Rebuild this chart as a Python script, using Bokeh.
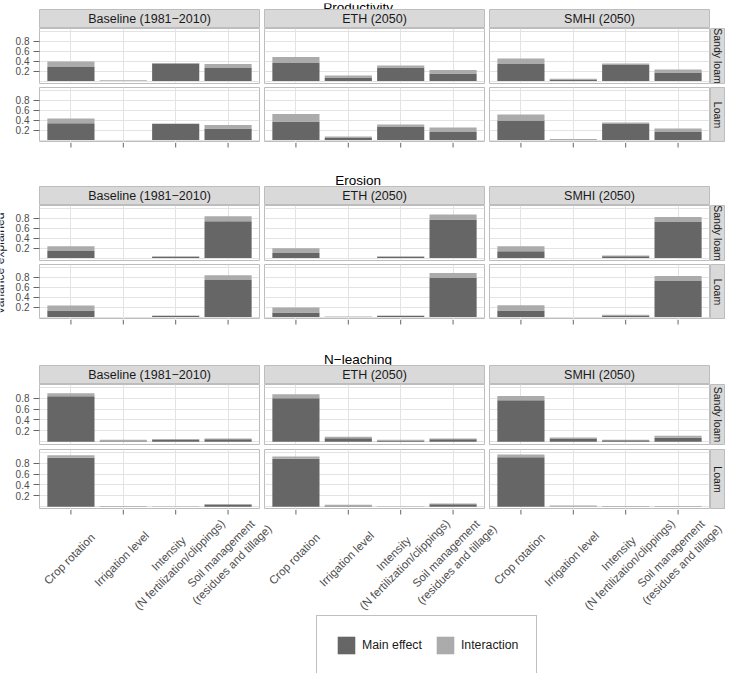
import math
from bokeh.plotting import figure
from bokeh.layouts import column, row
from bokeh.models import (FactorRange, Range1d, FixedTicker, ColumnDataSource,
                          Label, Legend, LegendItem)
from bokeh.core.properties import value
from bokeh.embed import file_html
from bokeh.resources import INLINE

# ---------------- data ----------------
SECTIONS = ["Productivity", "Erosion", "N\u2212leaching"]
SCENARIOS = ["Baseline (1981\u22122010)", "ETH (2050)", "SMHI (2050)"]
SOILS = ["Sandy loam", "Loam"]
FACTORS = ["Crop rotation", "Irrigation level", "Intensity", "Soil management"]
FACTOR_LABELS = ["Crop rotation", "Irrigation level",
                 "Intensity\n(N fertilization/clippings)",
                 "Soil management\n(residues and tillage)"]
Y_TICKS = [0.2, 0.4, 0.6, 0.8]
Y_GRID = [0.0, 0.2, 0.4, 0.6, 0.8, 1.0]
LEGEND_LABELS = ["Main effect", "Interaction"]
Y_LABEL = "Variance explained"

# Productivity
PROD_SANDY_BASE_MAIN = [0.28, 0.0, 0.35, 0.26]
PROD_SANDY_BASE_INTER = [0.11, 0.015, 0.01, 0.08]
PROD_SANDY_ETH_MAIN = [0.36, 0.07, 0.27, 0.15]
PROD_SANDY_ETH_INTER = [0.12, 0.04, 0.04, 0.07]
PROD_SANDY_SMHI_MAIN = [0.34, 0.03, 0.32, 0.17]
PROD_SANDY_SMHI_INTER = [0.11, 0.015, 0.03, 0.06]
PROD_LOAM_BASE_MAIN = [0.335, 0.0, 0.32, 0.23]
PROD_LOAM_BASE_INTER = [0.095, 0.0, 0.01, 0.07]
PROD_LOAM_ETH_MAIN = [0.37, 0.04, 0.26, 0.16]
PROD_LOAM_ETH_INTER = [0.15, 0.03, 0.05, 0.09]
PROD_LOAM_SMHI_MAIN = [0.39, 0.0, 0.32, 0.16]
PROD_LOAM_SMHI_INTER = [0.12, 0.02, 0.03, 0.07]
# Erosion
ERO_SANDY_BASE_MAIN = [0.14, 0.0, 0.025, 0.735]
ERO_SANDY_BASE_INTER = [0.095, 0.0, 0.01, 0.10]
ERO_SANDY_ETH_MAIN = [0.10, 0.0, 0.025, 0.77]
ERO_SANDY_ETH_INTER = [0.095, 0.0, 0.01, 0.10]
ERO_SANDY_SMHI_MAIN = [0.135, 0.0, 0.035, 0.72]
ERO_SANDY_SMHI_INTER = [0.10, 0.0, 0.015, 0.10]
ERO_LOAM_BASE_MAIN = [0.13, 0.0, 0.02, 0.74]
ERO_LOAM_BASE_INTER = [0.10, 0.0, 0.01, 0.095]
ERO_LOAM_ETH_MAIN = [0.09, 0.0, 0.02, 0.78]
ERO_LOAM_ETH_INTER = [0.10, 0.01, 0.01, 0.10]
ERO_LOAM_SMHI_MAIN = [0.13, 0.0, 0.03, 0.72]
ERO_LOAM_SMHI_INTER = [0.105, 0.0, 0.015, 0.10]
# N-leaching
NL_SANDY_BASE_MAIN = [0.836, 0.01, 0.04, 0.045]
NL_SANDY_BASE_INTER = [0.054, 0.025, 0.008, 0.015]
NL_SANDY_ETH_MAIN = [0.80, 0.065, 0.025, 0.045]
NL_SANDY_ETH_INTER = [0.07, 0.025, 0.01, 0.015]
NL_SANDY_SMHI_MAIN = [0.76, 0.05, 0.03, 0.075]
NL_SANDY_SMHI_INTER = [0.08, 0.028, 0.008, 0.035]
NL_LOAM_BASE_MAIN = [0.90, 0.0, 0.0, 0.04]
NL_LOAM_BASE_INTER = [0.045, 0.012, 0.01, 0.013]
NL_LOAM_ETH_MAIN = [0.88, 0.01, 0.0, 0.045]
NL_LOAM_ETH_INTER = [0.04, 0.025, 0.01, 0.015]
NL_LOAM_SMHI_MAIN = [0.91, 0.005, 0.0, 0.0]
NL_LOAM_SMHI_INTER = [0.048, 0.02, 0.012, 0.012]

VALUES = {
    (0, 0, 0): (PROD_SANDY_BASE_MAIN, PROD_SANDY_BASE_INTER),
    (0, 0, 1): (PROD_SANDY_ETH_MAIN, PROD_SANDY_ETH_INTER),
    (0, 0, 2): (PROD_SANDY_SMHI_MAIN, PROD_SANDY_SMHI_INTER),
    (0, 1, 0): (PROD_LOAM_BASE_MAIN, PROD_LOAM_BASE_INTER),
    (0, 1, 1): (PROD_LOAM_ETH_MAIN, PROD_LOAM_ETH_INTER),
    (0, 1, 2): (PROD_LOAM_SMHI_MAIN, PROD_LOAM_SMHI_INTER),
    (1, 0, 0): (ERO_SANDY_BASE_MAIN, ERO_SANDY_BASE_INTER),
    (1, 0, 1): (ERO_SANDY_ETH_MAIN, ERO_SANDY_ETH_INTER),
    (1, 0, 2): (ERO_SANDY_SMHI_MAIN, ERO_SANDY_SMHI_INTER),
    (1, 1, 0): (ERO_LOAM_BASE_MAIN, ERO_LOAM_BASE_INTER),
    (1, 1, 1): (ERO_LOAM_ETH_MAIN, ERO_LOAM_ETH_INTER),
    (1, 1, 2): (ERO_LOAM_SMHI_MAIN, ERO_LOAM_SMHI_INTER),
    (2, 0, 0): (NL_SANDY_BASE_MAIN, NL_SANDY_BASE_INTER),
    (2, 0, 1): (NL_SANDY_ETH_MAIN, NL_SANDY_ETH_INTER),
    (2, 0, 2): (NL_SANDY_SMHI_MAIN, NL_SANDY_SMHI_INTER),
    (2, 1, 0): (NL_LOAM_BASE_MAIN, NL_LOAM_BASE_INTER),
    (2, 1, 1): (NL_LOAM_ETH_MAIN, NL_LOAM_ETH_INTER),
    (2, 1, 2): (NL_LOAM_SMHI_MAIN, NL_LOAM_SMHI_INTER),
}

# ---------------- style / layout ----------------
FONT = "Liberation Sans"
DARK = "#666666"
LIGHT = "#ABABAB"
GRID = "#E3E3E3"
BORDER = "#BDBDBD"
STRIP = "#D9D9D9"
TICK = "#666666"
TXT = "#1A1A1A"
AX_TXT = "#4D4D4D"

YLAB_W = 8
MAIN_W = 729
FRAME_W = 220
COLS = [(31, 3), (2, 2), (3, 1)]
SIDE_W = 15
STRIP_H = 19
TICK_OUT = 5
SEC = [
    dict(title_h=9, title_base=4, frame=55, gap=4, below=23),
    dict(title_h=21, title_base=15, frame=55, gap=4, below=26),
    dict(title_h=20, title_base=14, frame=60, gap=5, below=103),
]
LEGEND_H = 61
TOTAL_H = 673
TITLE_X = 356
YLAB_Y = 263
LABEL_DROP = 44.5
LABEL_DX = -1.6
LEG_X = 313
X_PAD = 0.1
PX_PER_UNIT = FRAME_W / (len(FACTORS) + 2 * X_PAD)
GROUP_PAD = 0.2 + 5 / PX_PER_UNIT
LAB_LEFT = 3


def base_fig(**kw):
    p = figure(toolbar_location=None, output_backend="svg", **kw)
    p.border_fill_color = "white"
    p.background_fill_color = "white"
    return p


def blank(p):
    p.xgrid.visible = False
    p.ygrid.visible = False
    p.outline_line_color = None


def panel(si, soil_i, sc_i):
    lb, rb = COLS[sc_i]
    s = SEC[si]
    bottom = 0 if soil_i == 1 else s["gap"]
    p = base_fig(width=lb + FRAME_W + rb, height=s["frame"] + bottom,
                 x_range=FactorRange(*FACTORS, range_padding=X_PAD, range_padding_units="absolute"),
                 y_range=Range1d(-0.05, 1.05),
                 x_axis_location=None,
                 y_axis_location="left" if sc_i == 0 else None,
                 min_border_left=lb, min_border_right=rb,
                 min_border_top=0, min_border_bottom=bottom)
    p.outline_line_color = BORDER
    main, inter = VALUES[(si, soil_i, sc_i)]
    src = ColumnDataSource(dict(factor=FACTORS, main=main, inter=inter))
    p.vbar_stack(["main", "inter"], x="factor", width=0.9, source=src,
                 fill_color=[DARK, LIGHT], line_color=None)
    p.xgrid.grid_line_color = GRID
    p.ygrid.grid_line_color = GRID
    p.ygrid.ticker = FixedTicker(ticks=Y_GRID)
    if sc_i == 0:
        ax = p.yaxis[0]
        ax.ticker = FixedTicker(ticks=Y_TICKS)
        ax.major_tick_out = 6
        ax.major_tick_in = 0
        ax.minor_tick_line_color = None
        ax.axis_line_color = None
        ax.major_tick_line_color = TICK
        ax.major_label_standoff = 4
        ax.major_label_text_font = FONT
        ax.major_label_text_font_size = "10px"
        ax.major_label_text_color = AX_TXT
    return p


def strip(text, sc_i):
    lb, rb = COLS[sc_i]
    p = base_fig(width=lb + FRAME_W + rb, height=STRIP_H,
                 x_range=Range1d(0, 1), y_range=Range1d(0, 1),
                 x_axis_location=None, y_axis_location=None,
                 min_border_left=lb, min_border_right=rb, min_border_top=0, min_border_bottom=0)
    blank(p)
    p.background_fill_color = STRIP
    p.outline_line_color = BORDER
    p.add_layout(Label(x=0.5, y=0.5, text=text, text_align="center", text_baseline="middle",
                       text_font=FONT, text_font_size="12.5px", text_color=TXT))
    return p


def side(text, si, soil_i):
    s = SEC[si]
    bottom = 0 if soil_i == 1 else s["gap"]
    p = base_fig(width=SIDE_W, height=s["frame"] + bottom,
                 x_range=Range1d(0, 1), y_range=Range1d(0, 1),
                 x_axis_location=None, y_axis_location=None,
                 min_border_left=0, min_border_right=0, min_border_top=0, min_border_bottom=bottom)
    blank(p)
    p.background_fill_color = STRIP
    p.outline_line_color = BORDER
    p.add_layout(Label(x=0.5, y=0.5, text=text, text_align="center", text_baseline="middle",
                       angle=-math.pi / 2, text_font=FONT, text_font_size="10.5px", text_color=TXT))
    return p


def title(si):
    s = SEC[si]
    p = base_fig(width=MAIN_W, height=s["title_h"],
                 x_range=Range1d(0, MAIN_W), y_range=Range1d(s["title_h"], 0),
                 x_axis_location=None, y_axis_location=None,
                 min_border_left=0, min_border_right=0, min_border_top=0, min_border_bottom=0)
    blank(p)
    p.add_layout(Label(x=TITLE_X - YLAB_W, y=s["title_base"], text=SECTIONS[si],
                       text_align="center", text_baseline="alphabetic",
                       text_font=FONT, text_font_size="13.5px", text_color="black"))
    return p


XF = [(s, f) for s in SCENARIOS for f in FACTORS]


def below(height, with_labels):
    """x ticks (and tick labels) under a section, on a factor range matching the panels"""
    lab_frame = MAIN_W - LAB_LEFT
    lab_units = lab_frame / PX_PER_UNIT
    lab_pad = (lab_units - (3 * len(FACTORS) + 2 * GROUP_PAD)) / 2
    p = base_fig(width=MAIN_W, height=height,
                 x_range=FactorRange(*XF, group_padding=GROUP_PAD, factor_padding=0,
                                     range_padding=lab_pad, range_padding_units="absolute"),
                 y_range=Range1d(height, 0),
                 x_axis_location=None, y_axis_location=None,
                 min_border_left=LAB_LEFT, min_border_right=0, min_border_top=0, min_border_bottom=0)
    blank(p)
    tick_src = ColumnDataSource(dict(x=XF, y0=[0] * len(XF), y1=[TICK_OUT] * len(XF)))
    p.segment(x0="x", y0="y0", x1="x", y1="y1", source=tick_src, line_color=TICK, line_width=1)
    if with_labels:
        lab_src = ColumnDataSource(dict(
            x=XF, y=[TICK_OUT + LABEL_DROP] * len(XF),
            text=[t for s in SCENARIOS for t in FACTOR_LABELS]))
        p.text(x="x", y="y", text="text", source=lab_src, angle=math.pi / 4,
               text_align="center", text_baseline="middle", x_offset=LABEL_DX,
               text_font=value(FONT), text_font_size=value("11.5px"),
               text_color=AX_TXT, text_line_height=1.3)
    return p


blocks = []
for si in range(3):
    blocks.append(title(si))
    blocks.append(row(*[strip(SCENARIOS[c], c) for c in range(3)]))
    for soil_i in range(2):
        blocks.append(row(*[panel(si, soil_i, c) for c in range(3)], side(SOILS[soil_i], si, soil_i)))
    blocks.append(below(SEC[si]["below"], si == 2))

# legend
gp = base_fig(width=MAIN_W, height=LEGEND_H, x_range=Range1d(0, 1), y_range=Range1d(0, 1),
              x_axis_location=None, y_axis_location=None,
              min_border_left=0, min_border_right=0, min_border_top=0, min_border_bottom=0)
blank(gp)
r1 = gp.vbar(x=[0.5], top=[0], bottom=[0], width=0, fill_color=DARK, line_color=None)
r2 = gp.vbar(x=[0.5], top=[0], bottom=[0], width=0, fill_color=LIGHT, line_color=None)
leg = Legend(items=[LegendItem(label=LEGEND_LABELS[0], renderers=[r1]),
                    LegendItem(label=LEGEND_LABELS[1], renderers=[r2])],
             orientation="horizontal", location=(LEG_X - YLAB_W, -2),
             glyph_width=22, glyph_height=22, label_standoff=5, spacing=12,
             padding=18, margin=0, border_line_color="#7F7F7F", border_line_width=1,
             label_text_font=FONT, label_text_font_size="12.3px", label_text_color=TXT,
             background_fill_color="white")
gp.add_layout(leg, "center")
blocks.append(gp)

main_col = column(*blocks)

# y-axis title
yp = base_fig(width=YLAB_W, height=TOTAL_H, x_range=Range1d(0, YLAB_W), y_range=Range1d(TOTAL_H, 0),
              x_axis_location=None, y_axis_location=None,
              min_border_left=0, min_border_right=0, min_border_top=0, min_border_bottom=0)
blank(yp)
yp.add_layout(Label(x=-1, y=YLAB_Y, text=Y_LABEL, angle=math.pi / 2,
                    text_align="center", text_baseline="middle",
                    text_font=FONT, text_font_size="12.1px", text_color=TXT))

layout = row(yp, main_col)

with open("out.html", "w") as f:
    f.write(file_html(layout, INLINE))
